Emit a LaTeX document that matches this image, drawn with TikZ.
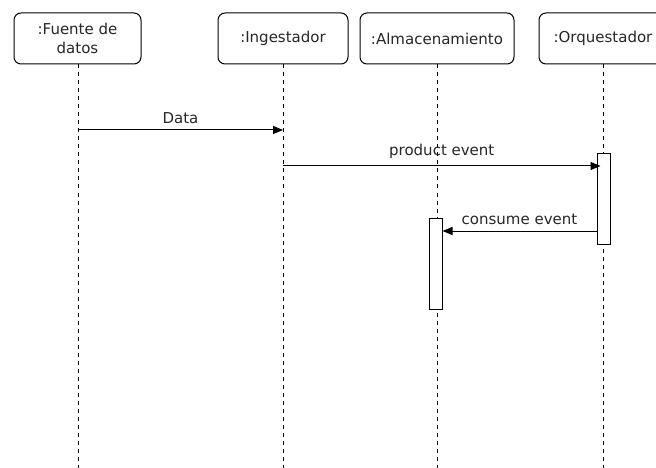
\documentclass[tikz,border=0pt]{standalone}
\usepackage{fontspec}
\setmainfont{DejaVu Sans}
\usetikzlibrary{arrows.meta}
\definecolor{txt}{HTML}{262626}
\begin{document}
\begin{tikzpicture}[x=1pt,y=-1pt,
  head/.style={draw, rounded corners=7pt, line width=1pt, minimum height=51pt, inner sep=0pt, align=center, text=txt, font=\fontsize{15}{18.5}\selectfont},
  life/.style={line width=0.9pt, dash pattern=on 4pt off 4pt},
  act/.style={draw, fill=white, line width=1pt, minimum width=13pt, inner sep=0pt},
  msg/.style={line width=1pt, -{Triangle[length=10pt,width=8pt]}},
  lbl/.style={font=\fontsize{15}{18}\selectfont, text=txt, inner sep=0pt, anchor=base}]
\useasboundingbox (0,0) rectangle (656,468);
% heads
\node[head, minimum width=127pt] (fu) at (77.5,38.5) {:Fuente de\\datos};
\node[head, minimum width=130pt] (in) at (283,38.5) {:Ingestador};
\node[head, minimum width=154pt] (al) at (437,38.5) {:Almacenamiento};
\node[head, minimum width=128pt] (or) at (603,38.5) {:Orquestador};
% lifeline ends
\coordinate (fuE) at (78,468);
\coordinate (inE) at (283,468);
\coordinate (alE) at (437,468);
\coordinate (orE) at (603,468);
\draw[life] (fu.south -| fuE) -- (fuE);
\draw[life] (in.south) -- (inE);
\draw[life] (al.south) -- (alE);
\draw[life] (or.south) -- (orE);
% activations
\node[act, minimum height=90pt] (orA) at (603.5,199) {};
\node[act, minimum height=91pt] (alA) at (435.5,263.5) {};
% messages
\coordinate (d1) at (78,130);
\coordinate (d2) at (283,130);
\draw[msg] (d1) -- node[lbl, above=6pt] {Data} (d2);
\coordinate (p1) at (283,166);
\draw[msg] (p1) -- node[lbl, above=7pt] {product event} ([xshift=4pt]p1 -| orA.west);
\coordinate (c1) at (597,231);
\draw[msg] (c1 -| orA.west) -- node[lbl, above=6pt] {consume event} (c1 -| alA.east);
\end{tikzpicture}
\end{document}
